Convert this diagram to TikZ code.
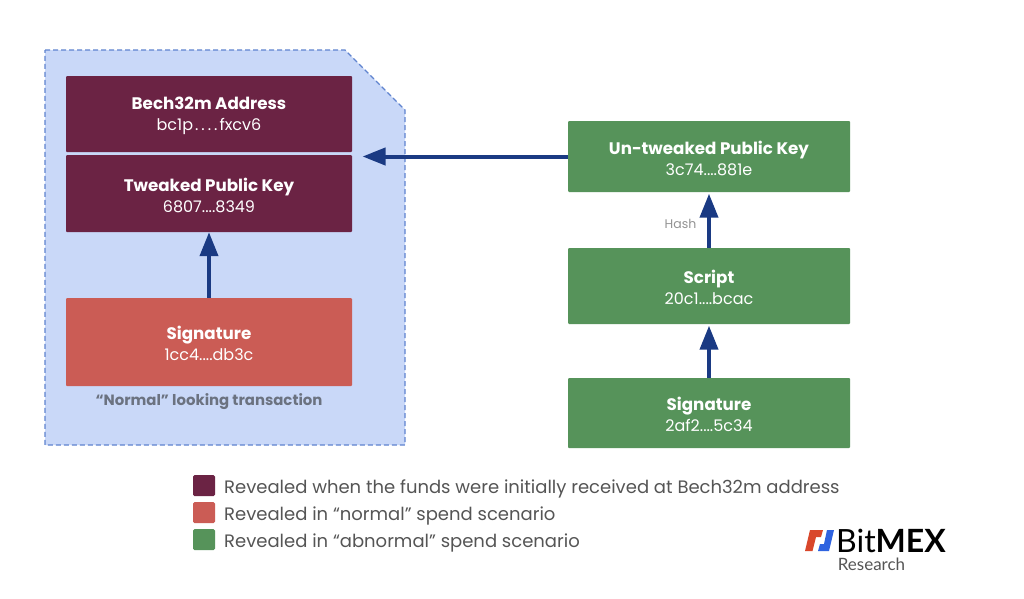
\documentclass[tikz,border=0pt]{standalone}
\usepackage{fontspec}
\setmainfont{Poppins}
\newfontfamily\logofont{Lato}
\usetikzlibrary{arrows.meta}
\definecolor{maroon}{HTML}{6B2344}
\definecolor{redbox}{HTML}{CB5C55}
\definecolor{greenbox}{HTML}{56935A}
\definecolor{panel}{HTML}{C9D8F8}
\definecolor{panelline}{HTML}{5F83CF}
\definecolor{arrowblue}{HTML}{1A3A83}
\definecolor{greytext}{HTML}{6B7280}
\definecolor{legendtext}{HTML}{555555}
\definecolor{logored}{HTML}{D9472B}
\definecolor{logoblue}{HTML}{2F63E0}
\tikzset{
  box/.style={minimum width=#1,inner sep=0pt,text=white,align=center,rounded corners=1pt,anchor=center,font=\fontsize{16}{21}\selectfont},
  flow/.style={draw=arrowblue,line width=4pt,-{Triangle[length=24pt,width=18pt]}},
  swatch/.style={minimum width=22pt,minimum height=21pt,inner sep=0pt,rounded corners=1.5pt},
  legendlabel/.style={anchor=west,inner sep=0pt,text=legendtext,font=\fontsize{18}{21}\selectfont},
}
\newcommand{\titleline}[1]{{\rule{0pt}{17pt}\fontsize{16.7}{21}\selectfont\textbf{#1}}}
\begin{document}
\begin{tikzpicture}[x=1pt,y=-1pt]
\useasboundingbox (0,0) rectangle (1024,598);
\fill[white] (0,0) rectangle (1024,598);
\draw[fill=panel,draw=panelline,line width=1.2pt,dash pattern=on 5pt off 3pt] (45,50) -- (345,50) -- (405,110) -- (405,445) -- (45,445) -- cycle;
\node[box=286pt,minimum height=76pt,fill=maroon] (addr) at (209,114) {\titleline{Bech32m Address}\\bc1p\kern2pt.\kern3pt.\kern3pt.\kern3pt.\kern2pt fxcv6};
\node[box=286pt,minimum height=77pt,fill=maroon] (tweak) at (209,193.5) {\titleline{Tweaked Public Key}\\6807....8349};
\node[box=286pt,minimum height=88pt,fill=redbox] (sigred) at (209,342) {\titleline{Signature}\\1cc4....db3c};
\node[inner sep=0pt,text=greytext,font=\fontsize{14.9}{18}\selectfont\bfseries] (normal) at (209,402) {“Normal” looking transaction};
\node[box=282pt,minimum height=71pt,fill=greenbox] (untw) at (709,156.5) {\titleline{Un-tweaked Public Key}\\3c74....881e};
\node[box=282pt,minimum height=76pt,fill=greenbox] (script) at (709,286) {\titleline{Script}\\20c1....bcac};
\node[box=282pt,minimum height=70pt,fill=greenbox] (siggreen) at (709,413) {\titleline{Signature}\\2af2....5c34};
\coordinate (panelin) at (362.5,156.5);
\draw[flow,-{Triangle[length=23pt,width=17pt]}] (untw.west) -- (panelin);
\draw[flow] (sigred.north) -- (tweak.south);
\draw[flow,shorten >=1.5pt] (script.north) -- (untw.south);
\draw[flow,shorten >=1.5pt] (siggreen.north) -- (script.south);
\node[inner sep=0pt,text=gray!85,font=\fontsize{12.5}{14}\selectfont] (hash) at (680.5,224) {Hash};
\node[swatch,fill=maroon] (s1) at (204,485.5) {};
\node[swatch,fill=redbox] (s2) at (204,512.5) {};
\node[swatch,fill=greenbox] (s3) at (204,539.5) {};
\node[legendlabel] (l1) at (224,488.5) {Revealed when the funds were initially received at Bech32m address};
\node[legendlabel] (l2) at (224,515.5) {Revealed in “normal” spend scenario};
\node[legendlabel] (l3) at (224,542.5) {Revealed in “abnormal” spend scenario};
\fill[logored] (805,551) -- (810,530) -- (823,530) -- (821,537) -- (816,537) -- (812.5,551) -- cycle;
\fill[logoblue] (818,551) -- (820,544) -- (824,544) -- (827,530) -- (834,530) -- (829,551) -- cycle;
\node[anchor=west,inner sep=0pt,font=\fontsize{32}{34}\logofont] (logo) at (836,540.5) {Bit\textbf{MEX}};
\node[inner sep=0pt,text=legendtext,font=\fontsize{17}{20}\logofont] (res) at (871.5,564.5) {Research};
\end{tikzpicture}
\end{document}
